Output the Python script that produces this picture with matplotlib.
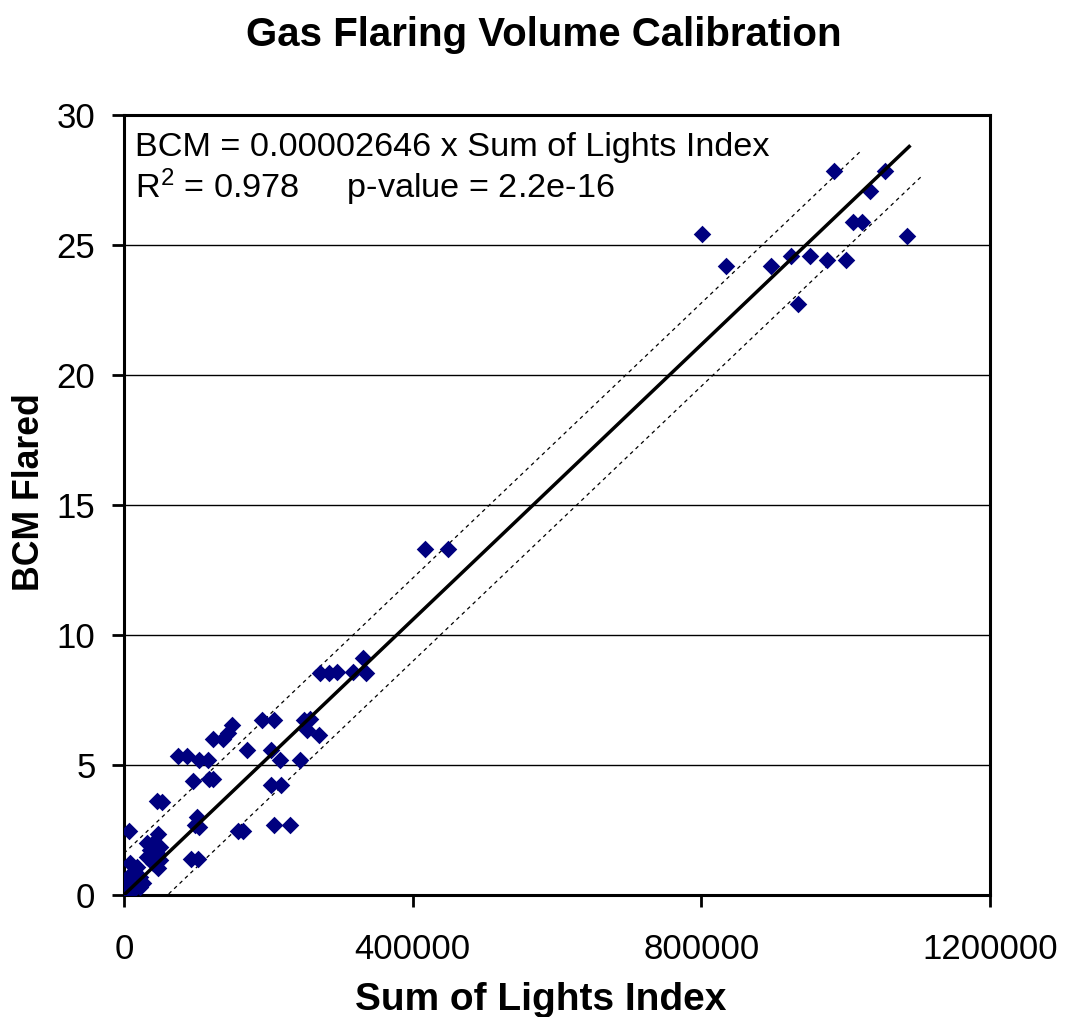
import numpy as np
import matplotlib
matplotlib.use('Agg')
import matplotlib.pyplot as plt

plt.rcParams['font.family'] = ['Liberation Sans', 'DejaVu Sans']
plt.rcParams['mathtext.default'] = 'regular'

# Data
lights_index = [
    801400, 983900, 1054500, 1034100, 1010600, 1022200, 1085000, 833800,
    897000, 923900, 950600, 973700, 1000100, 934000,
    417100, 449000,
    330800, 316900, 335300, 271600, 284500, 295600,
    190800, 207900, 249800, 257700, 253200, 270600,
    150100, 144500, 136800, 123700, 75200, 86900, 104300, 116800,
    170900, 203300, 216200, 243900,
    95200, 118200, 123700, 203300, 217100,
    52200, 45700, 101600, 98400, 104300, 158400, 164500, 207900, 230000,
    92800, 103000, 6900, 47500,
    31500, 40600, 49900, 36000, 45300, 31500, 49900, 40600, 47500,
    8300, 17600, 10700, 22200, 1000, 3700, 12900, 1000, 8300, 22200, 26700, 1400,
]
bcm_flared = [
    25.43, 27.86, 27.86, 27.07, 25.88, 25.88, 25.35, 24.20,
    24.20, 24.58, 24.58, 24.42, 24.42, 22.73,
    13.30, 13.30,
    9.10, 8.59, 8.53, 8.53, 8.53, 8.59,
    6.73, 6.73, 6.73, 6.76, 6.35, 6.15,
    6.54, 6.22, 5.99, 5.99, 5.35, 5.35, 5.19, 5.19,
    5.58, 5.58, 5.19, 5.19,
    4.40, 4.46, 4.46, 4.23, 4.23,
    3.57, 3.60, 2.99, 2.69, 2.63, 2.47, 2.47, 2.69, 2.69,
    1.37, 1.37, 2.46, 2.35,
    1.99, 1.99, 1.86, 1.73, 1.60, 1.47, 1.35, 1.22, 1.03,
    1.22, 1.09, 0.83, 0.70, 0.58, 0.45, 0.32, 0.19, 0.07, 0.32, 0.45, 0.02,
]

slope = 0.00002646
band = 1.6
fit_x = np.array([0, 1088000])
upper_x = np.array([0, 1022000])
lower_x = np.array([62000, 1105000])

fig = plt.figure(figsize=(10.65, 10.17), dpi=100)
ax = fig.add_axes([0.1164, 0.1200, 0.8132, 0.7669])

ax.scatter(lights_index, bcm_flared, marker='D', s=80, color='#00007f',
           linewidths=0, zorder=3)
ax.plot(fit_x, slope * fit_x, color='black', lw=2.5, zorder=4)
ax.plot(upper_x, slope * upper_x + band, color='black', lw=0.9,
        dashes=(3, 3), zorder=2)
ax.plot(lower_x, slope * lower_x - band, color='black', lw=0.9,
        dashes=(3, 3), zorder=2)

ax.set_xlim(0, 1200000)
ax.set_ylim(0, 30)
ax.set_xticks([0, 400000, 800000, 1200000])
ax.set_xticklabels(['0', '400000', '800000', '1200000'])
ax.set_yticks([0, 5, 10, 15, 20, 25, 30])
ax.yaxis.grid(True, color='black', lw=1.0)
ax.set_axisbelow(True)
for s in ax.spines.values():
    s.set_linewidth(2.2)
ax.tick_params(direction='out', length=8.5, width=2, labelsize=25)
ax.tick_params(axis='x', pad=19)
ax.tick_params(axis='y', pad=12)

ax.text(0.013, 0.958, 'BCM = 0.00002646 x Sum of Lights Index',
        transform=ax.transAxes, fontsize=24.7, va='center', ha='left')
ax.text(0.013, 0.908, 'R$^2$ = 0.978     p-value = 2.2e-16',
        transform=ax.transAxes, fontsize=24.7, va='center', ha='left')

fig.text(0.511, 0.966, 'Gas Flaring Volume Calibration', fontsize=29,
         fontweight='bold', ha='center', va='center')
fig.text(0.508, 0.017, 'Sum of Lights Index', fontsize=28,
         fontweight='bold', ha='center', va='center')
fig.text(0.028, 0.516, 'BCM Flared', fontsize=25.7, fontweight='bold',
         ha='center', va='center', rotation=90)

fig.savefig('out.png', dpi=100)
